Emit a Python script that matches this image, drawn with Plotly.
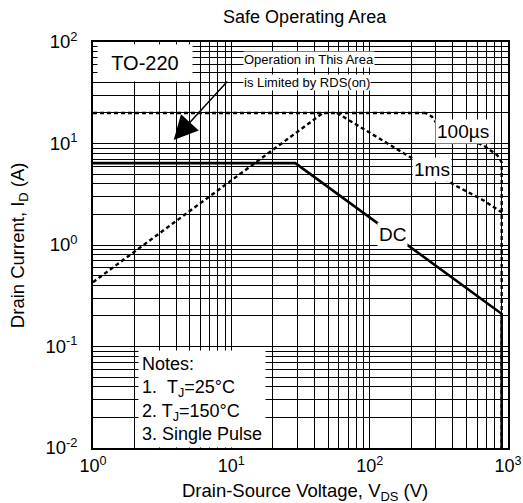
import plotly.graph_objects as go
import math

# ---- data ----
rds_v = [1, 46]            # RDS(on) limit line
rds_i = [0.43, 20]
idm_v = [1, 245]           # pulsed current limit
idm_i = [20, 20]
us100_v = [245, 253, 282, 299, 687, 767, 834, 881, 900, 900]
us100_i = [20, 20, 18.4, 16.4, 9.3, 8.3, 7.7, 6.9, 6.5, 0.01]
ms1_v = [58, 208, 417, 667, 900]
ms1_i = [20, 7.0, 3.85, 2.75, 2.1]
dc_v = [1, 29, 900, 900]
dc_i = [6.4, 6.4, 0.21, 0.01]

x_ticks = [1, 10, 100, 1000]
x_ticktext = ["10<sup>0</sup>", "10<sup>1</sup>", "10<sup>2</sup>", "10<sup>3</sup>"]
y_ticks = [0.01, 0.1, 1, 10, 100]
y_ticktext = ["10<sup>-2</sup>", "10<sup>-1</sup>", "10<sup>0</sup>", "10<sup>1</sup>", "10<sup>2</sup>"]

FONT = "Liberation Sans, Arial, sans-serif"
dash = "4px,3px"

# standard log minor grid positions (2..9 within each decade)
x_minor = [m * 10 ** d for d in range(0, 3) for m in range(2, 10)]
y_minor = [m * 10 ** d for d in range(-2, 2) for m in range(2, 10)]

fig = go.Figure()
fig.add_trace(go.Scatter(x=dc_v, y=dc_i, mode="lines",
                         line=dict(color="black", width=2.6), showlegend=False))
fig.add_trace(go.Scatter(x=rds_v, y=rds_i, mode="lines",
                         line=dict(color="black", width=2.4, dash=dash), showlegend=False))
fig.add_trace(go.Scatter(x=idm_v, y=idm_i, mode="lines",
                         line=dict(color="black", width=2.4, dash=dash), showlegend=False))
fig.add_trace(go.Scatter(x=us100_v, y=us100_i, mode="lines",
                         line=dict(color="black", width=2.4, dash=dash), showlegend=False))
fig.add_trace(go.Scatter(x=ms1_v, y=ms1_i, mode="lines",
                         line=dict(color="black", width=2.4, dash=dash), showlegend=False))

L = math.log10
ann = []
ann.append(dict(x=L(2.39), y=L(62), xref="x", yref="y", text="TO-220", showarrow=False,
                font=dict(size=20, color="black", family=FONT), bgcolor="white",
                width=92, height=34, borderpad=1))
ann.append(dict(x=0.362, y=0.956, xref="paper", yref="paper", xanchor="left", yanchor="middle",
                text="Operation in This Area", showarrow=False,
                font=dict(size=13, color="black", family=FONT), bgcolor="white", borderpad=0))
ann.append(dict(x=0.362, y=0.901, xref="paper", yref="paper", xanchor="left", yanchor="middle",
                text="is Limited by RDS(on)", showarrow=False,
                font=dict(size=13, color="black", family=FONT), bgcolor="white", borderpad=0))
ann.append(dict(x=L(3.83), y=L(10.8), xref="x", yref="y", ax=L(9.56), ay=L(42.3),
                axref="x", ayref="y", text="", showarrow=True, arrowhead=2,
                arrowsize=3.2, arrowwidth=1.5, arrowcolor="black"))
ann.append(dict(x=L(476), y=L(13.0), xref="x", yref="y", text="100\u00b5s", showarrow=False,
                font=dict(size=19, color="black", family=FONT), bgcolor="white", borderpad=1))
ann.append(dict(x=L(284), y=L(5.5), xref="x", yref="y", text="1ms", showarrow=False,
                font=dict(size=19, color="black", family=FONT), bgcolor="white", borderpad=1))
ann.append(dict(x=L(146), y=L(1.28), xref="x", yref="y", text="DC", showarrow=False,
                font=dict(size=19, color="black", family=FONT), bgcolor="white", borderpad=1))
ann.append(dict(x=0.109, y=0.0, xref="paper", yref="paper", xanchor="left", yanchor="bottom",
                align="left",
                text="Notes:<br>1.\u00a0\u00a0T<sub>J</sub>=25\u00b0C<br>2. T<sub>J</sub>=150\u00b0C<br>3. Single Pulse",
                showarrow=False, font=dict(size=18, color="black", family=FONT),
                bgcolor="white", borderpad=3))
# axis titles as annotations so they sit where the reference puts them
ann.append(dict(x=0.51, y=-0.108, xref="paper", yref="paper", xanchor="center", yanchor="middle",
                text="Drain-Source Voltage, V<sub>DS</sub> (V)", showarrow=False,
                font=dict(size=18.5, color="black", family=FONT)))
ann.append(dict(x=-0.178, y=0.5, xref="paper", yref="paper", xanchor="center", yanchor="middle",
                text="Drain Current, I<sub>D</sub> (A)", showarrow=False, textangle=-90,
                font=dict(size=18.5, color="black", family=FONT)))

axis_common = dict(showgrid=True, gridcolor="black", gridwidth=1,
                   showline=True, linecolor="black", linewidth=1.5, mirror=True,
                   ticks="", zeroline=False, automargin=False)

fig.update_layout(
    width=523, height=503,
    margin=dict(l=93, r=15, t=42, b=55),
    paper_bgcolor="white", plot_bgcolor="white",
    font=dict(family=FONT, color="black"),
    title=dict(text="Safe Operating Area", x=0.51, xref="paper", y=0.966, yref="container",
               xanchor="center", yanchor="middle",
               font=dict(size=18, color="black", family=FONT)),
    xaxis=dict(type="log", range=[0, 3], tickvals=x_ticks, ticktext=x_ticktext,
               ticklabelstandoff=1,
               tickfont=dict(size=18, color="black", family=FONT),
               minor=dict(tickmode="array", tickvals=x_minor, showgrid=True,
                          gridcolor="black", gridwidth=1, ticks=""),
               **axis_common),
    yaxis=dict(type="log", range=[-2, 2], tickvals=y_ticks, ticktext=y_ticktext,
               ticklabelstandoff=10,
               tickfont=dict(size=18.5, color="black", family=FONT),
               minor=dict(tickmode="array", tickvals=y_minor, showgrid=True,
                          gridcolor="black", gridwidth=1, ticks=""),
               **axis_common),
    annotations=ann,
)

fig.write_html("out.html", config={"displayModeBar": False},
               post_script="document.body.style.margin='0px';")
